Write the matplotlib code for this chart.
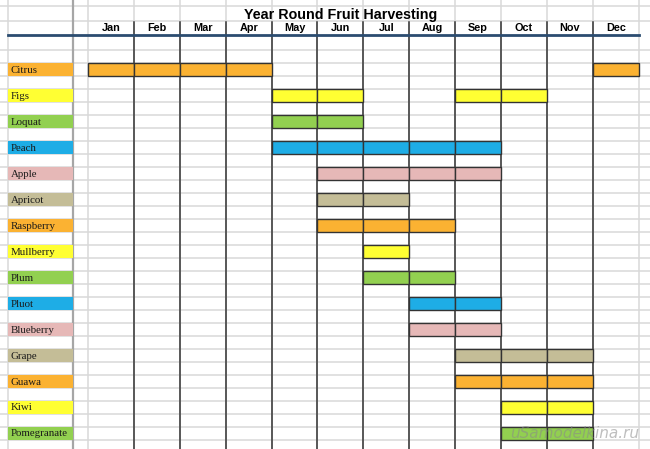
import numpy as np
import matplotlib.pyplot as plt

# --- data ---
months = ["Jan", "Feb", "Mar", "Apr", "May", "Jun",
          "Jul", "Aug", "Sep", "Oct", "Nov", "Dec"]
fruits = ["Citrus", "Figs", "Loquat", "Peach", "Apple", "Apricot", "Raspberry",
          "Mullberry", "Plum", "Pluot", "Blueberry", "Grape", "Guawa", "Kiwi",
          "Pomegranate"]
# harvest months (0 = Jan)
harvest = [
    [0, 1, 2, 3, 11],
    [4, 5, 8, 9],
    [4, 5],
    [4, 5, 6, 7, 8],
    [5, 6, 7, 8],
    [5, 6],
    [5, 6, 7],
    [6],
    [6, 7],
    [7, 8],
    [7, 8],
    [8, 9, 10],
    [8, 9, 10],
    [9, 10],
    [9, 10],
]
orange, yellow, green = "#FBB232", "#FFFF33", "#92D050"
blue, pink, tan = "#1EADE6", "#E6B8B7", "#C4BD97"
colors = [orange, yellow, green, blue, pink, tan, orange, yellow, green,
          blue, pink, tan, orange, yellow, green]

title = "Year Round Fruit Harvesting"

# --- figure: one axes, month units on x, spreadsheet rows on y ---
fig = plt.figure(figsize=(6.5, 4.49), dpi=100)
ax = fig.add_axes([0, 0, 1, 1])
ax.set_xlim(-1.917, 12.244)
ax.set_ylim(29.71, -4.877)
ax.axis("off")

grid_c = "#d9d9d9"
dark_c = "#333333"

# light spreadsheet grid
row_lines = [-4.41, -3.28, -1.0] + list(range(0, 30))
for y in row_lines:
    ax.axhline(y, color=grid_c, lw=1.1, zorder=0)
for x in list(range(0, 13)) + [-1.743]:
    ax.axvline(x, color=grid_c, lw=1.1, zorder=0)

# frozen pane line
ax.axvline(-0.327, color="#a6a6a6", lw=1.6, zorder=1)

# dark month separators
for x in range(1, 12):
    ax.plot([x, x], [-3.2, 29.71], color=dark_c, lw=1.1, zorder=2)

# header
ax.plot([-1.743, 12], [-2.18, -2.18], color="#2B4C70", lw=2.0, zorder=3)
ax.text(5.5, -3.75, title, ha="center", va="center", fontsize=10.3,
        fontweight="bold", family="Liberation Sans")
for m, name in enumerate(months):
    ax.text(m + 0.5, -2.72, name, ha="center", va="center", fontsize=7.8,
            fontweight="bold", family="Liberation Sans")

# fruit labels and harvest bars
for i, (fruit, col, hm) in enumerate(zip(fruits, colors, harvest)):
    y0 = 2 * i
    ax.bar(-1.743, 1, width=1.416, bottom=y0, align="edge", color=col,
           edgecolor="none", zorder=3)
    ax.text(-1.68, y0 + 0.55, fruit, ha="left", va="center", fontsize=7.8,
            family="Liberation Serif", color="#1a1a1a", zorder=4)
    ax.bar(hm, 1, width=1, bottom=y0, align="edge", color=col,
           edgecolor=dark_c, linewidth=1.0, zorder=3)

# watermark
ax.text(12.0, 28.5, "uSamodelkina.ru", ha="right", va="center", fontsize=11,
        color="#8a8a8a", alpha=0.55, style="italic", zorder=5)

fig.savefig("out.png", dpi=100)
